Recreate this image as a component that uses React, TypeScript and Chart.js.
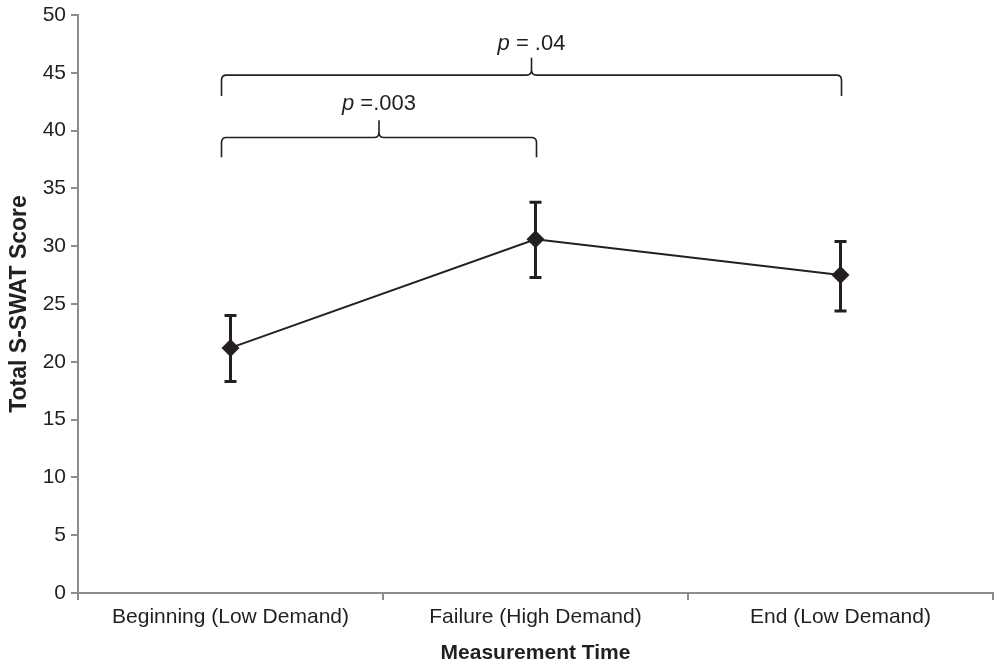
import React, { useEffect, useRef } from "react";
import { Chart, registerables } from "chart.js";

Chart.register(...registerables);

const categories = ["Beginning (Low Demand)", "Failure (High Demand)", "End (Low Demand)"];
const means = [21.2, 30.6, 27.5];
const errUpper = [24.0, 33.8, 30.4];
const errLower = [18.3, 27.3, 24.4];

// brackets: from/to category index, level, end, cusp, label height (in score units)
const bracketFrom = [0, 0];
const bracketTo = [1, 2];
const bracketLevel = [39.4, 44.8];
const bracketEnd = [37.7, 43.0];
const bracketCusp = [40.9, 46.3];
const bracketLabelY = [42.3, 47.5];
const bracketLabelP = [" =.003", " = .04"];

const INK = "#231f20";
const AXIS = "#8c8c8c";
const FONT = "'Liberation Sans', Arial, sans-serif";

const overlayPlugin = {
  id: "overlay",
  afterDatasetsDraw(chart: any) {
    const ctx = chart.ctx;
    const x = chart.scales.x;
    const y = chart.scales.y;
    ctx.save();
    // error bars
    ctx.strokeStyle = INK;
    ctx.lineWidth = 3;
    for (let i = 0; i < means.length; i++) {
      const px = x.getPixelForValue(i);
      const top = y.getPixelForValue(errUpper[i]);
      const bot = y.getPixelForValue(errLower[i]);
      ctx.beginPath();
      ctx.moveTo(px, top);
      ctx.lineTo(px, bot);
      ctx.moveTo(px - 6, top);
      ctx.lineTo(px + 6, top);
      ctx.moveTo(px - 6, bot);
      ctx.lineTo(px + 6, bot);
      ctx.stroke();
    }
    // brackets
    ctx.lineWidth = 1.6;
    for (let b = 0; b < bracketFrom.length; b++) {
      const x0 = x.getPixelForValue(bracketFrom[b]) - 9;
      const x1 = x.getPixelForValue(bracketTo[b]) + 1;
      const xm = (x0 + x1) / 2;
      const yl = y.getPixelForValue(bracketLevel[b]);
      const ye = y.getPixelForValue(bracketEnd[b]);
      const yc = y.getPixelForValue(bracketCusp[b]);
      const r = 5;
      ctx.beginPath();
      ctx.moveTo(x0, ye);
      ctx.lineTo(x0, yl + r);
      ctx.quadraticCurveTo(x0, yl, x0 + r, yl);
      ctx.lineTo(xm - r, yl);
      ctx.quadraticCurveTo(xm, yl, xm, yl - r);
      ctx.lineTo(xm, yc);
      ctx.moveTo(xm, yl - r);
      ctx.quadraticCurveTo(xm, yl, xm + r, yl);
      ctx.lineTo(x1 - r, yl);
      ctx.quadraticCurveTo(x1, yl, x1, yl + r);
      ctx.lineTo(x1, ye);
      ctx.stroke();
      // label
      const ly = y.getPixelForValue(bracketLabelY[b]);
      ctx.fillStyle = INK;
      ctx.textBaseline = "middle";
      ctx.font = `italic 22px ${FONT}`;
      const pw = ctx.measureText("p").width;
      ctx.font = `22px ${FONT}`;
      const rw = ctx.measureText(bracketLabelP[b]).width;
      const start = xm - (pw + rw) / 2;
      ctx.textAlign = "left";
      ctx.font = `italic 22px ${FONT}`;
      ctx.fillText("p", start, ly);
      ctx.font = `22px ${FONT}`;
      ctx.fillText(bracketLabelP[b], start + pw, ly);
    }
    ctx.restore();
  },
};

export default function App() {
  const ref = useRef<HTMLCanvasElement | null>(null);
  useEffect(() => {
    document.body.style.margin = "0";
    const chart = new Chart(ref.current as HTMLCanvasElement, {
      type: "line",
      data: {
        labels: categories,
        datasets: [
          {
            data: means,
            borderColor: INK,
            backgroundColor: INK,
            borderWidth: 2,
            pointStyle: "rectRot",
            pointRadius: 9,
            pointBorderWidth: 0,
            pointBackgroundColor: INK,
            tension: 0,
          },
        ],
      },
      options: {
        animation: false,
        responsive: false,
        devicePixelRatio: 1,
        layout: { autoPadding: false, padding: { top: 15, right: 2, left: 0, bottom: 0 } },
        plugins: { legend: { display: false }, tooltip: { enabled: false } },
        scales: {
          x: {
            type: "category",
            offset: true,
            grid: {
              display: true,
              offset: true,
              drawOnChartArea: false,
              drawTicks: true,
              tickLength: 7,
              color: AXIS,
              lineWidth: 2,
            },
            border: { display: true, color: AXIS, width: 2 },
            ticks: { color: INK, font: { family: FONT, size: 21 }, padding: 5, maxRotation: 0 },
            title: {
              display: true,
              text: "Measurement Time",
              color: INK,
              font: { family: FONT, size: 21, weight: "bold" },
              padding: { top: 0, bottom: 2 },
            },
            afterFit(scale: any) {
              scale.height = 75;
              scale.paddingLeft = 0;
              scale.paddingRight = 0;
            },
          },
          y: {
            min: 0,
            max: 50,
            ticks: { stepSize: 5, color: INK, font: { family: FONT, size: 21 }, padding: 5 },
            grid: {
              display: true,
              drawOnChartArea: false,
              drawTicks: true,
              tickLength: 7,
              color: AXIS,
              lineWidth: 2,
            },
            border: { display: true, color: AXIS, width: 2 },
            title: {
              display: true,
              text: "Total S-SWAT Score",
              color: INK,
              font: { family: FONT, size: 23, weight: "bold" },
              padding: { top: 6, bottom: 0 },
            },
            afterFit(scale: any) {
              scale.width = 78;
              scale.paddingTop = 0;
              scale.paddingBottom = 0;
            },
          },
        },
      },
      plugins: [overlayPlugin],
    } as any);
    return () => chart.destroy();
  }, []);
  return (
    <div style={{ width: 995, height: 668 }}>
      <canvas ref={ref} width={995} height={668} style={{ display: "block" }} />
    </div>
  );
}
